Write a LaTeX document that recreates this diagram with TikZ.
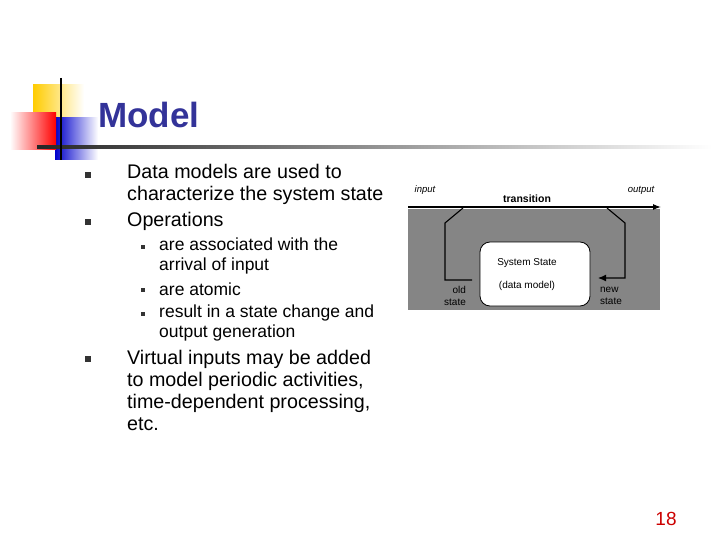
\documentclass[tikz,border=0pt]{standalone}
\usepackage{fontspec}
\setmainfont{Liberation Sans}
\usetikzlibrary{arrows.meta}
\definecolor{ttl}{HTML}{333399}
\definecolor{dgray}{HTML}{858585}
\definecolor{gold}{HTML}{FFCC00}
\begin{document}
\begin{tikzpicture}[x=1pt,y=-1pt,
  bul/.style={fill=black!80,minimum size=5.5pt,inner sep=0pt},
  sbul/.style={fill=black!80,minimum size=4.5pt,inner sep=0pt},
  txt/.style={anchor=west,font=\fontsize{19.7}{22}\selectfont,align=left,inner sep=0pt},
  stxt/.style={anchor=west,font=\fontsize{17.5}{20.3}\selectfont,align=left,inner sep=0pt},
  dl/.style={font=\fontsize{10}{11}\selectfont,inner sep=0pt},
  flow/.style={line width=1.1pt}]
\useasboundingbox (0,0) rectangle (720,540);
% logo
\shade[left color=gold,right color=white] (33,85) rectangle (84,122);
\shade[left color=blue!80!black,right color=white] (55,118) rectangle (98,160);
\shade[left color=white,right color=red] (10,113) rectangle (56,150);
\shade[left color=black!85,right color=white] (37,145.5) rectangle (712,149);
\draw[line width=2.2pt] (61,78) -- (61,160);
\node[anchor=west,font=\fontsize{35}{37}\selectfont\bfseries,text=ttl,inner sep=0pt] (title) at (98,115) {Model};
% bullets
\node[bul] (b1) at (88,175) {};
\node[txt] (t1) at (127,184) {Data models are used to\\characterize the system state};
\node[bul] (b2) at (88,222) {};
\node[txt] (t2) at (127,221) {Operations};
\node[sbul] (s1) at (143,247) {};
\node[stxt] (u1) at (159,256) {are associated with the\\arrival of input};
\node[sbul] (s2) at (143,290) {};
\node[stxt] (u2) at (159,289) {are atomic};
\node[sbul] (s3) at (143,314) {};
\node[stxt] (u3) at (159,323) {result in a state change and\\output generation};
\node[bul] (b3) at (88,359) {};
\node[txt,font=\fontsize{19.7}{21.7}\selectfont] (t3) at (127,390.5) {Virtual inputs may be added\\to model periodic activities,\\time-dependent processing,\\etc.};
% diagram
\fill[dgray] (408,209) rectangle (660,310);
\draw[flow,-{Latex[length=8pt,width=6pt]}] (408,207) coordinate (in) -- (661,207) coordinate (out);
\node[dl,font=\fontsize{9.5}{10}\selectfont\itshape] (il) at (425,190) {input};
\node[dl,font=\fontsize{9.5}{10}\selectfont\itshape] (ol) at (641,190) {output};
\node[dl,font=\fontsize{10.5}{11}\selectfont\bfseries] (tr) at (527,199) {transition};
\node[draw=black,fill=white,rounded corners=10pt,minimum width=110pt,minimum height=64pt,line width=0.8pt] (ss) at (535,274) {};
\node[dl] (sst) at (527,263) {System State};
\node[dl] (dm) at (527,286) {(data model)};
\node[dl,align=right,font=\fontsize{10}{12}\selectfont] (os) at (455,296) {old\\state};
\node[dl,align=left,font=\fontsize{10}{12}\selectfont] (ns) at (611,296) {new\\state};
\coordinate (l1) at (463,208);
\coordinate (r1) at (607,208);
\draw[flow] (l1) -- (445,223) -- (445,280) -- (472,280);
\draw[flow,-{Latex[length=8pt,width=7pt]}] (r1) -- (625,223) -- (625,278) -- (598,278);
% page number
\node[font=\fontsize{19}{20}\selectfont,text=red!80!black] (pg) at (666,519) {18};
\end{tikzpicture}
\end{document}
